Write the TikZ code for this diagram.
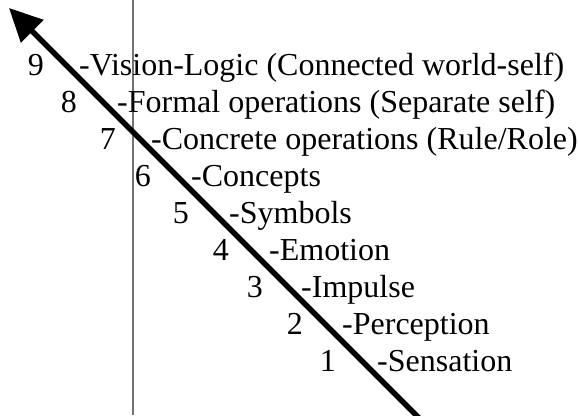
\documentclass[tikz,border=0pt]{standalone}
\usepackage{fontspec}
\setmainfont{Liberation Serif}
\usetikzlibrary{arrows.meta}

\begin{document}
\begin{tikzpicture}[
    x=1pt, y=-1pt,
    num/.style={anchor=base east, inner sep=0pt, font=\fontsize{32}{38}\selectfont},
    stage/.style={anchor=base west, inner sep=0pt, font=\fontsize{32}{38}\selectfont},
    arrow/.style={-{Triangle[length=33pt, width=31pt]}, line width=5.5pt, draw=black},
    guide/.style={draw=black!55, line width=1.1pt}
]
\useasboundingbox (0,0) rectangle (578,415);
\clip (0,0) rectangle (578,415);

% thin vertical rule
\coordinate (guidetop) at (133,0);
\coordinate (guidebot) at (133,415);
\draw[guide] (guidetop) -- (guidebot);

% levels, top to bottom
\node[num] (n9) at (44,75) {9};
\node[stage] (s9) at (79,75) {-Vision-Logic (Connected world-self)};
\node[num] (n8) at (77,112) {8};
\node[stage] (s8) at (117,112) {-Formal operations (Separate self)};
\node[num] (n7) at (116,149) {7};
\node[stage] (s7) at (151,149) {-Concrete operations (Rule/Role)};
\node[num] (n6) at (151,186) {6};
\node[stage] (s6) at (191,186) {-Concepts};
\node[num] (n5) at (189,223) {5};
\node[stage] (s5) at (229,223) {-Symbols};
\node[num] (n4) at (229,260) {4};
\node[stage] (s4) at (269,260) {-Emotion};
\node[num] (n3) at (263,297) {3};
\node[stage] (s3) at (301,297) {-Impulse};
\node[num] (n2) at (303,334) {2};
\node[stage] (s2) at (342,334) {-Perception};
\node[num] (n1) at (336,371) {1};
\node[stage] (s1) at (377,371) {-Sensation};

% development arrow
\coordinate (tail) at (424,423);
\coordinate (tip) at (9,8);
\draw[arrow] (tail) -- (tip);

\end{tikzpicture}
\end{document}
